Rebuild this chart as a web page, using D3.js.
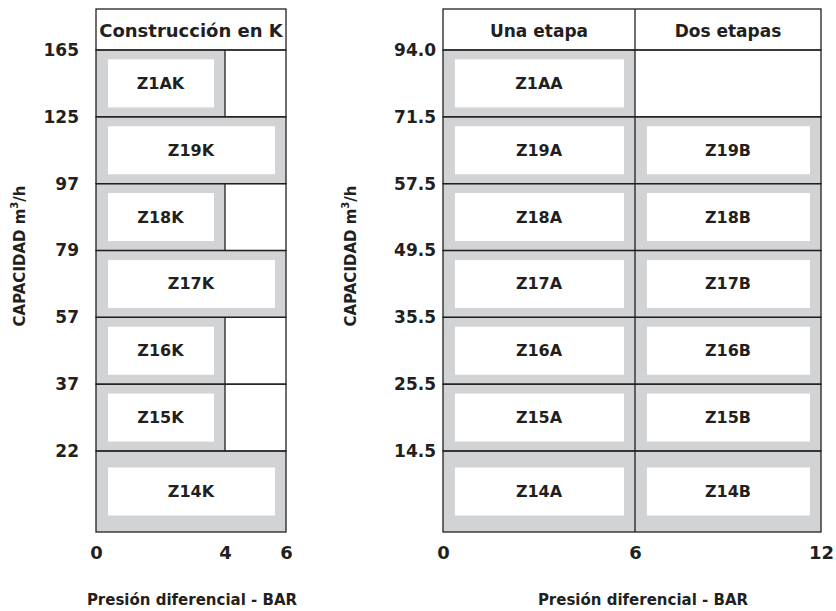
<!DOCTYPE html>
<html>
<head>
<meta charset="utf-8">
<script src="https://cdn.jsdelivr.net/npm/d3@7/dist/d3.min.js"></script>
<style>
  html, body { margin: 0; padding: 0; background: #fff; }
  svg { display: block; }
  text { font-family: "DejaVu Sans", "Liberation Sans", sans-serif; font-weight: bold; fill: #231f20; }
</style>
</head>
<body>
<svg id="chart" width="836" height="611"></svg>
<script>
// ---------- data ----------
const leftCats   = ["Z14K", "Z15K", "Z16K", "Z17K", "Z18K", "Z19K", "Z1AK"];
const leftMaxBar = [6, 4, 4, 6, 4, 6, 4];
const leftYTicks = ["22", "37", "57", "79", "97", "125", "165"];
const leftXTicks = [0, 4, 6];
const leftHeader = "Construcción en K";

const rightCatsA  = ["Z14A", "Z15A", "Z16A", "Z17A", "Z18A", "Z19A", "Z1AA"];
const rightCatsB  = ["Z14B", "Z15B", "Z16B", "Z17B", "Z18B", "Z19B", null];
const rightYTicks = ["14.5", "25.5", "35.5", "49.5", "57.5", "71.5", "94.0"];
const rightXTicks = [0, 6, 12];
const stageRanges = [[0, 6], [6, 12]];
const rightHeaders = ["Una etapa", "Dos etapas"];

const xTitle = "Presión diferencial - BAR";

// ---------- layout ----------
const INK = "#231f20", GRAY = "#d1d3d4", SW = 1.3;
const svg = d3.select("#chart");
const headerTop = 9;

// row-boundary index scale (bottom row taller than the others)
const y = d3.scaleLinear().domain([0, 1, 7]).range([532, 451, 50]);
const nRows = leftCats.length;

function rowBand(i) { return { top: y(i + 1), bottom: y(i) }; }

function drawCell(g, x, x0, x1, i, label) {
  const b = rowBand(i);
  g.append("rect").attr("x", x(x0)).attr("y", b.top)
    .attr("width", x(x1) - x(x0)).attr("height", b.bottom - b.top)
    .attr("fill", GRAY);
  const cy = (b.top + b.bottom) / 2;
  g.append("rect").attr("x", x(x0) + 12).attr("y", cy - 24)
    .attr("width", x(x1) - x(x0) - 23).attr("height", 48)
    .attr("fill", "#fff");
  g.append("text").attr("x", (x(x0) + x(x1)) / 2).attr("y", cy)
    .attr("text-anchor", "middle").attr("dominant-baseline", "central")
    .attr("font-size", 16).text(label);
}

function drawYTitle(cx) {
  const t = svg.append("text")
    .attr("transform", `translate(${cx},256) rotate(-90)`)
    .attr("text-anchor", "middle").attr("dominant-baseline", "central")
    .attr("font-size", 15);
  t.append("tspan").text("CAPACIDAD m");
  t.append("tspan").attr("font-size", 10).attr("dy", -6).text("3");
  t.append("tspan").attr("dy", 6).text("/h");
}

function styleAxis(g, size) {
  g.select(".domain").remove();
  g.selectAll("text").attr("font-size", size).attr("fill", INK)
    .style("font-family", '"DejaVu Sans", sans-serif').style("font-weight", "bold");
}

// ---------- left chart ----------
{
  const x = d3.scaleLinear().domain([0, 4, 6]).range([96, 225, 286]);
  const g = svg.append("g");
  leftCats.forEach((c, i) => drawCell(g, x, 0, leftMaxBar[i], i, c));

  const lines = svg.append("g").attr("fill", "none").attr("stroke", INK).attr("stroke-width", SW);
  // header
  lines.append("rect").attr("x", x(0)).attr("y", headerTop)
    .attr("width", x(6) - x(0)).attr("height", y(7) - headerTop);
  // rows
  leftCats.forEach((c, i) => {
    const b = rowBand(i);
    lines.append("rect").attr("x", x(0)).attr("y", b.top)
      .attr("width", x(6) - x(0)).attr("height", b.bottom - b.top);
    if (leftMaxBar[i] < 6) {
      lines.append("line").attr("x1", x(leftMaxBar[i])).attr("x2", x(leftMaxBar[i]))
        .attr("y1", b.top).attr("y2", b.bottom);
    }
  });

  svg.append("text").attr("x", (x(0) + x(6)) / 2).attr("y", 37)
    .attr("text-anchor", "middle").attr("font-size", 18).text(leftHeader);

  const ya = svg.append("g").attr("transform", `translate(${x(0)},0)`)
    .call(d3.axisLeft(y).tickValues(d3.range(1, nRows + 1))
      .tickFormat(v => leftYTicks[v - 1]).tickSize(0).tickPadding(17));
  styleAxis(ya, 17);

  const xa = svg.append("g").attr("transform", `translate(0,${y(0)})`)
    .call(d3.axisBottom(x).tickValues(leftXTicks).tickFormat(d3.format("d"))
      .tickSize(0).tickPadding(14));
  styleAxis(xa, 18);

  svg.append("text").attr("x", 192).attr("y", 605)
    .attr("text-anchor", "middle").attr("font-size", 15).text(xTitle);
  drawYTitle(20);
}

// ---------- right chart ----------
{
  const x = d3.scaleLinear().domain([0, 6, 12]).range([443, 635, 821]);
  const g = svg.append("g");
  rightCatsA.forEach((c, i) => {
    drawCell(g, x, stageRanges[0][0], stageRanges[0][1], i, c);
    if (rightCatsB[i]) drawCell(g, x, stageRanges[1][0], stageRanges[1][1], i, rightCatsB[i]);
  });

  const lines = svg.append("g").attr("fill", "none").attr("stroke", INK).attr("stroke-width", SW);
  lines.append("rect").attr("x", x(0)).attr("y", headerTop)
    .attr("width", x(12) - x(0)).attr("height", y(7) - headerTop);
  rightCatsA.forEach((c, i) => {
    const b = rowBand(i);
    lines.append("rect").attr("x", x(0)).attr("y", b.top)
      .attr("width", x(12) - x(0)).attr("height", b.bottom - b.top);
  });
  lines.append("line").attr("x1", x(6)).attr("x2", x(6))
    .attr("y1", headerTop).attr("y2", y(0));

  rightHeaders.forEach((h, k) => {
    svg.append("text").attr("x", (x(stageRanges[k][0]) + x(stageRanges[k][1])) / 2).attr("y", 37)
      .attr("text-anchor", "middle").attr("font-size", 17).text(h);
  });

  const ya = svg.append("g").attr("transform", `translate(${x(0)},0)`)
    .call(d3.axisLeft(y).tickValues(d3.range(1, nRows + 1))
      .tickFormat(v => rightYTicks[v - 1]).tickSize(0).tickPadding(7));
  styleAxis(ya, 17);

  const xa = svg.append("g").attr("transform", `translate(0,${y(0)})`)
    .call(d3.axisBottom(x).tickValues(rightXTicks).tickFormat(d3.format("d"))
      .tickSize(0).tickPadding(14));
  styleAxis(xa, 18);

  svg.append("text").attr("x", 643).attr("y", 605)
    .attr("text-anchor", "middle").attr("font-size", 15).text(xTitle);
  drawYTitle(351);
}
</script>
</body>
</html>
